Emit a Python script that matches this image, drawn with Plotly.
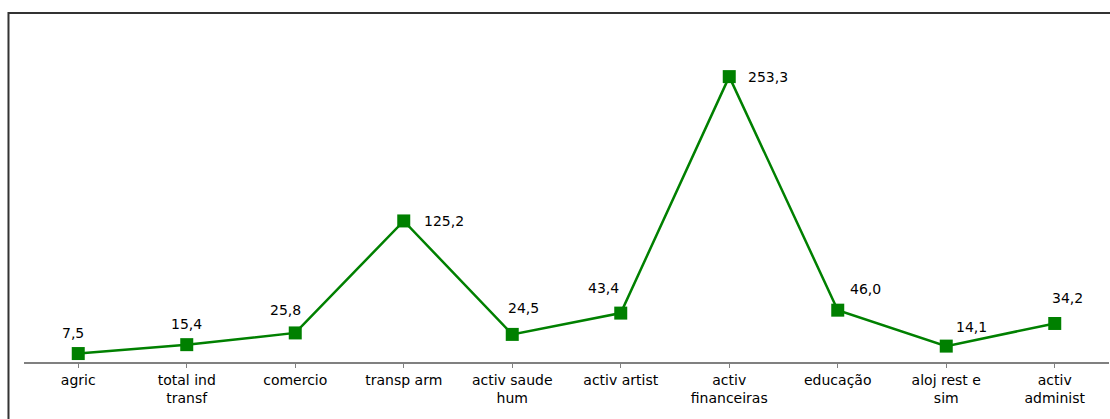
import plotly.graph_objects as go

# Sector categories (x axis) and their values
categories = [
    "agric", "total ind<br>transf", "comercio", "transp arm",
    "activ saude<br>hum", "activ artist", "activ<br>financeiras",
    "educação", "aloj rest e<br>sim", "activ<br>administ",
]
values = [7.5, 15.4, 25.8, 125.2, 24.5, 43.4, 253.3, 46.0, 14.1, 34.2]

# Pixel offsets of each value label relative to its marker
label_dx = [-5, 0, -10, 40, 11, -17, 39, 28, 25, 13]
label_dy = [21, 21, 23, 0, 26, 25, 0, 21, 19, 25]

GREEN = "#008000"
FONT = "DejaVu Sans, Arial, sans-serif"

x_idx = list(range(len(categories)))

fig = go.Figure()
fig.add_trace(go.Scatter(
    x=x_idx,
    y=values,
    mode="lines+markers",
    line=dict(color=GREEN, width=2.5),
    marker=dict(symbol="square", size=13, color=GREEN),
    hoverinfo="skip",
    showlegend=False,
    cliponaxis=False,
))

for i, v in enumerate(values):
    fig.add_annotation(
        x=i, y=v, xref="x", yref="y",
        text=f"{v:.1f}".replace(".", ","),
        showarrow=False,
        xshift=label_dx[i], yshift=label_dy[i],
        font=dict(family=FONT, size=14, color="#000000"),
    )

# Outer frame around the chart
fig.add_shape(
    type="rect", xref="paper", yref="paper",
    x0=-0.0143, y0=-0.3, x1=1.05, y1=1.0325,
    line=dict(color="#333333", width=2),
    fillcolor="rgba(0,0,0,0)",
    layer="above",
)

fig.update_layout(
    width=1110, height=419,
    margin=dict(l=24, r=1, t=24, b=57),
    paper_bgcolor="#ffffff",
    plot_bgcolor="#ffffff",
    font=dict(family=FONT, size=14, color="#000000"),
    xaxis=dict(
        range=[-0.5, len(categories) - 0.5],
        tickmode="array",
        tickvals=x_idx,
        ticktext=categories,
        tickson="boundaries",
        ticks="outside",
        ticklen=4,
        tickcolor="#808080",
        tickwidth=1,
        showline=True,
        linecolor="#808080",
        linewidth=1.5,
        showgrid=False,
        zeroline=False,
        tickfont=dict(family=FONT, size=14, color="#000000"),
        fixedrange=True,
    ),
    yaxis=dict(
        range=[0, 300],
        visible=False,
        showgrid=False,
        zeroline=False,
        fixedrange=True,
    ),
)

fig.write_html("out.html")
